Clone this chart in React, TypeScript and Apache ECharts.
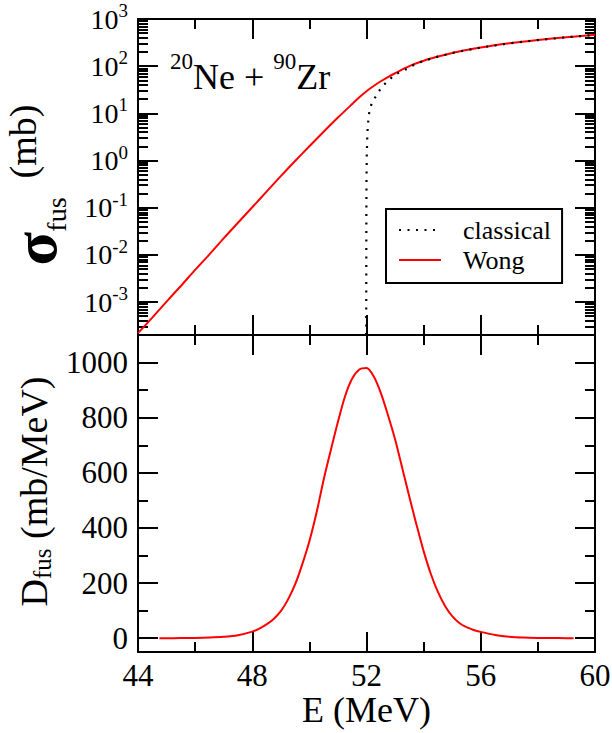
import React, { useEffect, useRef } from 'react';
import * as echarts from 'echarts';

// Beam energy axis (MeV)
const energyTicks = [44, 48, 52, 56, 60];
const energyMinorTicks = [46, 50, 54, 58];

// Fusion cross section axis, in mb: labelled powers of ten
const sigmaExponents = [-3, -2, -1, 0, 1, 2, 3];
const sigmaFloor = 2e-4;
const sigmaCeil = 1e3;

// Barrier distribution axis (mb/MeV)
const dfusTicks = [0, 200, 400, 600, 800, 1000];
const dfusMinorTicks = [100, 300, 500, 700, 900];

// Wong formula fusion cross section (mb)
const wongEnergy = [44, 44.5, 45, 45.5, 46, 46.5, 47, 47.5, 48, 48.5, 49, 49.5, 50, 50.5, 51, 51.5, 51.75, 52, 52.25, 52.5, 52.75, 53, 53.5, 54, 54.5, 55, 55.5, 56, 57, 58, 59, 60];
const wongSigma = [2.19e-4, 4.68e-4, 1.02e-3, 2.19e-3, 4.79e-3, 1.02e-2, 2.24e-2, 4.79e-2, 0.102, 0.219, 0.468, 0.977, 2.0, 4.07, 8.13, 15.8, 21.9, 29.5, 38.0, 47.9, 58.9, 70.8, 100, 130, 160, 191, 220, 249, 305, 359, 411, 462];

// Classical (sharp cut-off) fusion cross section (mb)
const classicalEnergy = [51.99, 51.995, 52.0, 52.01, 52.03, 52.07, 52.11, 52.2, 52.35, 52.52, 52.75, 53.02, 53.34, 53.7, 54, 54.5, 55, 55.5, 56, 57, 58, 59, 60];
const classicalSigma = [2e-4, 0.063, 0.4, 1.26, 3.8, 7.9, 12.0, 17.4, 24, 35.5, 49, 67.6, 83, 110, 129, 159, 190, 219, 248, 304, 358, 410, 461];

// Fusion barrier distribution D_fus (mb/MeV)
const dfusEnergy = [44.75, 45, 45.5, 46, 46.5, 47, 47.5, 48, 48.25, 48.5, 48.75, 49, 49.25, 49.5, 49.75, 50, 50.25, 50.5, 50.75, 51, 51.25, 51.5, 51.75, 52, 52.25, 52.5, 52.75, 53, 53.25, 53.5, 53.75, 54, 54.25, 54.5, 54.75, 55, 55.25, 55.5, 55.75, 56, 56.5, 57, 57.5, 58, 58.5, 59, 59.25];
const dfusValues = [0.15, 0.2, 0.5, 1, 2.3, 5, 11, 24, 35, 50, 70, 98, 140, 195, 268, 352, 455, 575, 682, 785, 878, 942, 975, 980, 950, 890, 810, 722, 618, 513, 412, 316, 234, 168, 117, 80, 55, 40, 30, 23, 12, 5.5, 2.5, 1.2, 0.6, 0.3, 0.2];

const INK = '#000000';
const RED = '#ff0000';
const FONT = '"Liberation Serif", "Times New Roman", serif';

const lg = Math.log10;
const sigmaMin = lg(sigmaFloor);
const sigmaMax = lg(sigmaCeil);

// minor ticks of the log axis at 2..9 x 10^n
const sigmaMinorTicks: number[] = [];
for (let n = -4; n < 3; n++) {
  for (let k = 2; k <= 9; k++) {
    const v = n + lg(k);
    if (v > sigmaMin && v < sigmaMax) sigmaMinorTicks.push(v);
  }
}

function frameAxis(
  gridIndex: number,
  position: string,
  min: number,
  max: number,
  ticks: number[],
  length: number,
  extra: any = {}
) {
  return {
    type: 'value',
    gridIndex,
    position,
    min,
    max,
    axisLine: { show: !!extra.line, onZero: false, lineStyle: { color: INK, width: 2 } },
    axisTick: {
      show: true,
      inside: true,
      length,
      customValues: ticks,
      lineStyle: { color: INK, width: 2 },
    },
    axisLabel: extra.label || { show: false },
    splitLine: { show: false },
    minorTick: { show: false },
    minorSplitLine: { show: false },
    ...(extra.name || {}),
  };
}

const linearLabel = (ticks: number[], margin: number) => ({
  show: true,
  customValues: ticks,
  margin,
  color: INK,
  fontFamily: FONT,
  fontSize: 31,
  formatter: (v: number) => String(Math.round(v)),
});

const xAxes = [0, 1].flatMap((g) => [
  frameAxis(g, 'bottom', 44, 60, energyTicks, 20, {
    line: true,
    label: g === 1 ? linearLabel(energyTicks, 8) : undefined,
    name:
      g === 1
        ? {
            name: 'E (MeV)',
            nameLocation: 'middle',
            nameGap: 38,
            nameTextStyle: { color: INK, fontFamily: FONT, fontSize: 36 },
          }
        : undefined,
  }),
  frameAxis(g, 'bottom', 44, 60, energyMinorTicks, 10),
  frameAxis(g, 'top', 44, 60, energyTicks, 20, { line: true }),
  frameAxis(g, 'top', 44, 60, energyMinorTicks, 10),
]);

const sigmaLabel = {
  show: true,
  customValues: sigmaExponents,
  margin: 10,
  color: INK,
  fontFamily: FONT,
  formatter: (v: number) => `{b|10}{s|${Math.round(v)}}`,
  rich: {
    b: { fontSize: 28, lineHeight: 28, verticalAlign: 'bottom', fontFamily: FONT, color: INK },
    s: { fontSize: 19, lineHeight: 19, padding: [0, 0, 13, 0], verticalAlign: 'bottom', fontFamily: FONT, color: INK },
  },
};

const yAxes = [
  frameAxis(0, 'left', sigmaMin, sigmaMax, sigmaExponents, 20, {
    line: true,
    label: sigmaLabel,
    name: {
      name: '{sig|σ}{sub|fus}{t|  (mb)}',
      nameLocation: 'middle',
      nameRotate: 90,
      nameGap: 68,
      nameTextStyle: {
        color: INK,
        fontFamily: FONT,
        fontSize: 38,
        padding: [0, 16, 0, 0],
        rich: {
          sig: { fontSize: 62, lineHeight: 60, fontWeight: 'bold', verticalAlign: 'top', fontFamily: FONT, color: INK },
          sub: { fontSize: 28, lineHeight: 28, padding: [38, 0, 0, 0], verticalAlign: 'bottom', fontFamily: FONT, color: INK },
          t: { fontSize: 38, lineHeight: 66, verticalAlign: 'top', fontFamily: FONT, color: INK },
        },
      },
    },
  }),
  frameAxis(0, 'left', sigmaMin, sigmaMax, sigmaMinorTicks, 10),
  frameAxis(0, 'right', sigmaMin, sigmaMax, sigmaExponents, 20, { line: true }),
  frameAxis(0, 'right', sigmaMin, sigmaMax, sigmaMinorTicks, 10),
  frameAxis(1, 'left', -50, 1100, dfusTicks, 20, {
    line: true,
    label: linearLabel(dfusTicks, 10),
    name: {
      name: '{d|D}{sub|fus}{t| (mb/MeV)}',
      nameLocation: 'middle',
      nameRotate: 90,
      nameGap: 81,
      nameTextStyle: {
        color: INK,
        fontFamily: FONT,
        fontSize: 38,
        padding: [0, 0, 0, 4],
        rich: {
          d: { fontSize: 38, lineHeight: 40, verticalAlign: 'top', fontFamily: FONT, color: INK },
          sub: { fontSize: 25, lineHeight: 25, padding: [26, 0, 0, 0], verticalAlign: 'bottom', fontFamily: FONT, color: INK },
          t: { fontSize: 38, lineHeight: 40, verticalAlign: 'top', fontFamily: FONT, color: INK },
        },
      },
    },
  }),
  frameAxis(1, 'left', -50, 1100, dfusMinorTicks, 10),
  frameAxis(1, 'right', -50, 1100, dfusTicks, 20, { line: true }),
  frameAxis(1, 'right', -50, 1100, dfusMinorTicks, 10),
];

const option: any = {
  animation: false,
  backgroundColor: '#ffffff',
  grid: [
    { left: 138, top: 19, width: 457, height: 316, containLabel: false, outerBoundsMode: 'none' },
    { left: 138, top: 335, width: 457, height: 317, containLabel: false, outerBoundsMode: 'none' },
  ],
  xAxis: xAxes,
  yAxis: yAxes,
  legend: {
    data: ['classical', 'Wong'],
    orient: 'vertical',
    left: 386,
    top: 209,
    padding: [8, 11, 10, 12],
    itemGap: 4,
    itemWidth: 42,
    itemHeight: 14,
    borderColor: INK,
    borderWidth: 2,
    borderRadius: 0,
    backgroundColor: '#ffffff',
    selectedMode: false,
    itemStyle: { opacity: 0 },
    textStyle: { color: INK, fontFamily: FONT, fontSize: 26, lineHeight: 26, padding: [0, 0, 0, 17] },
  },
  graphic: [
    {
      type: 'text',
      left: 170,
      top: 50,
      z: 10,
      style: {
        text: '{s|20}{b|Ne + }{s|90}{b|Zr}',
        fill: INK,
        font: `36px ${FONT}`,
        rich: {
          b: { fontSize: 36, lineHeight: 36, verticalAlign: 'bottom', fontFamily: FONT, fill: INK },
          s: { fontSize: 23, lineHeight: 23, padding: [0, 0, 22, 0], verticalAlign: 'bottom', fontFamily: FONT, fill: INK },
        },
      },
    },
  ],
  series: [
    {
      name: 'Wong',
      type: 'line',
      xAxisIndex: 0,
      yAxisIndex: 0,
      data: wongEnergy.map((e, i) => [e, lg(wongSigma[i])]),
      symbol: 'none',
      smooth: 0.3,
      lineStyle: { color: RED, width: 2 },
      itemStyle: { color: RED },
      z: 3,
    },
    {
      name: 'classical',
      type: 'line',
      xAxisIndex: 0,
      yAxisIndex: 0,
      data: classicalEnergy.map((e, i) => [e, lg(classicalSigma[i])]),
      symbol: 'none',
      lineStyle: { color: INK, width: 2.2, type: [2, 6.5] },
      itemStyle: { color: INK },
      z: 4,
    },
    {
      name: 'Dfus',
      type: 'line',
      xAxisIndex: 4,
      yAxisIndex: 4,
      data: dfusEnergy.map((e, i) => [e, dfusValues[i]]),
      symbol: 'none',
      smooth: 0.3,
      lineStyle: { color: RED, width: 2 },
      itemStyle: { color: RED },
      z: 3,
    },
  ],
};

export default function App() {
  const ref = useRef<HTMLDivElement>(null);
  useEffect(() => {
    const chart = echarts.init(ref.current as HTMLDivElement, null, { renderer: 'svg' });
    chart.setOption(option);
    return () => chart.dispose();
  }, []);
  return (
    <div
      ref={ref}
      style={{ position: 'fixed', left: 0, top: 0, width: 612, height: 733, background: '#ffffff' }}
    />
  );
}
